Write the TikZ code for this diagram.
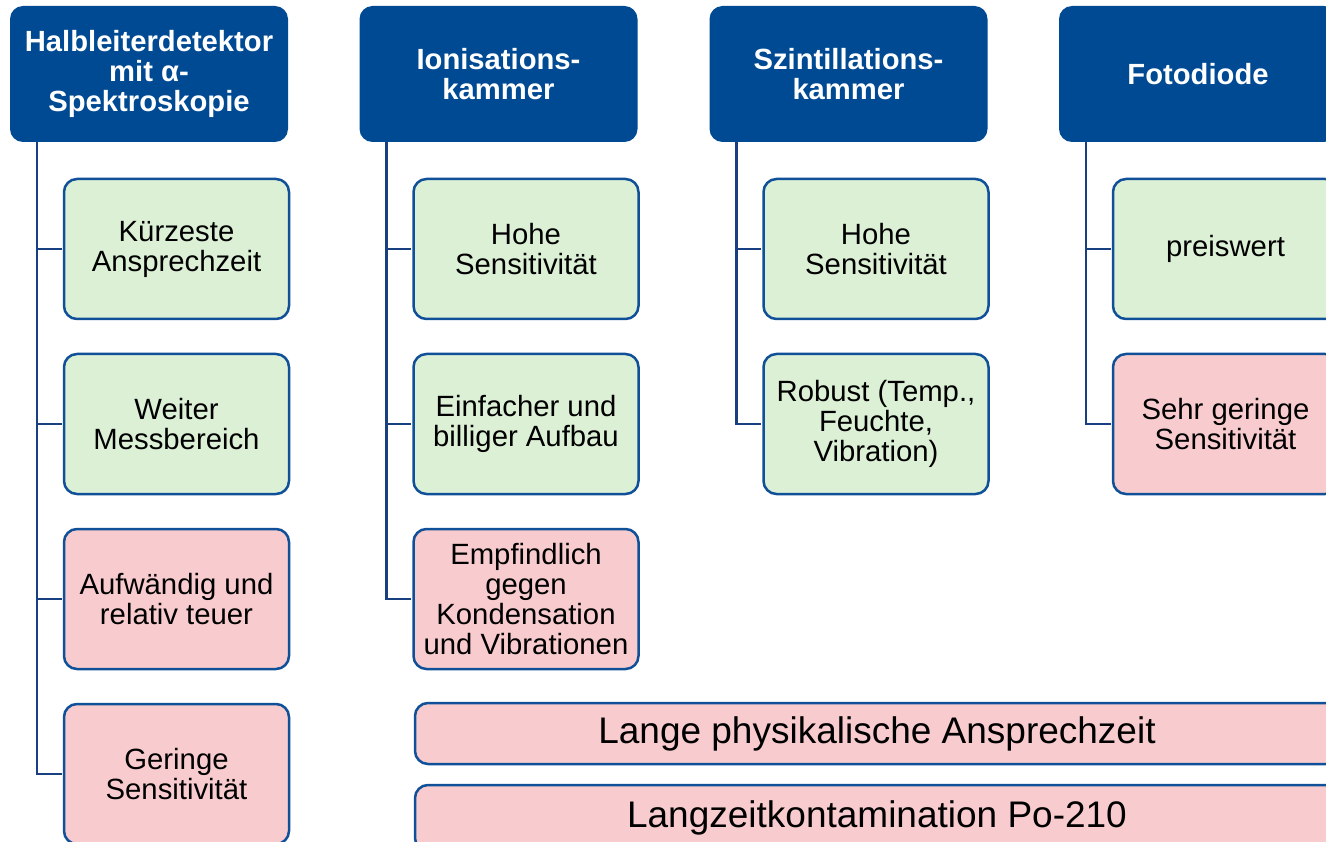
\documentclass[tikz,border=0pt]{standalone}
\usepackage{fontspec}
\setmainfont{Liberation Sans}
\definecolor{hdr}{RGB}{0,74,147}
\definecolor{bord}{RGB}{16,80,152}
\definecolor{lcol}{RGB}{24,64,128}
\definecolor{gfill}{RGB}{220,240,214}
\definecolor{rfill}{RGB}{248,204,206}
\tikzset{
  head/.style={fill=hdr, rounded corners=13pt, text=white, font=\bfseries\fontsize{29.2}{30}\selectfont, align=center, minimum width=278pt, minimum height=136pt, inner sep=0pt},
  boxbase/.style={draw=bord, line width=2.5pt, rounded corners=13pt, font=\fontsize{29.3}{30}\selectfont, align=center, minimum width=225pt, minimum height=140pt, inner sep=0pt},
  good/.style={boxbase, fill=gfill},
  bad/.style={boxbase, fill=rfill},
  wide/.style={draw=bord, line width=2.5pt, rounded corners=13pt, fill=rfill, font=\fontsize{37}{40}\selectfont, minimum width=924pt, inner sep=0pt},
  conn/.style={draw=lcol, line width=2.5pt}
}
\begin{document}
\begin{tikzpicture}[x=1pt,y=-1pt]
\useasboundingbox (0,0) rectangle (1326,842);
\clip (0,0) rectangle (1326,842);
% headers
\node[head] (h1) at (149,74) {Halbleiterdetektor\\mit α-\\Spektroskopie};
\node[head] (h2) at (498.5,74) {Ionisations-\\kammer};
\node[head] (h3) at (848.5,74) {Szintillations-\\kammer};
\node[head] (h4) at (1198,74) {Fotodiode};
% trunk starts
\coordinate (t1) at ([xshift=27pt]h1.south west);
\coordinate (t2) at ([xshift=27pt]h2.south west);
\coordinate (t3) at ([xshift=27pt]h3.south west);
\coordinate (t4) at ([xshift=27pt]h4.south west);
% column 1
\node[good] (c11) at (176.5,249) {Kürzeste\\Ansprechzeit};
\node[good] (c12) at (176.5,424) {Weiter\\Messbereich};
\node[bad]  (c13) at (176.5,599) {Aufwändig und\\relativ teuer};
\node[bad]  (c14) at (176.5,774) {Geringe\\Sensitivität};
% column 2
\node[good] (c21) at (526,249) {Hohe\\Sensitivität};
\node[good] (c22) at (526,424) {Einfacher und\\billiger Aufbau};
\node[bad]  (c23) at (526,599) {Empfindlich\\gegen\\Kondensation\\und Vibrationen};
% column 3
\node[good] (c31) at (876,249) {Hohe\\Sensitivität};
\node[good] (c32) at (876,424) {Robust (Temp.,\\Feuchte,\\Vibration)};
% column 4
\node[good] (c41) at (1225.5,249) {preiswert};
\node[bad]  (c42) at (1225.5,424) {Sehr geringe\\Sensitivität};
% wide boxes
\node[wide, minimum height=61pt] (w1) at (877,733.5) {Lange physikalische Ansprechzeit};
\node[wide, minimum height=66pt] (w2) at (877,818) {Langzeitkontamination Po-210};
% connectors
\foreach \t/\c in {t1/c11,t1/c12,t1/c13,t1/c14,t2/c21,t2/c22,t2/c23,t3/c31,t3/c32,t4/c41,t4/c42}{
  \draw[conn] (\t) |- ([xshift=-1pt]\c.west);
}
\end{tikzpicture}
\end{document}
